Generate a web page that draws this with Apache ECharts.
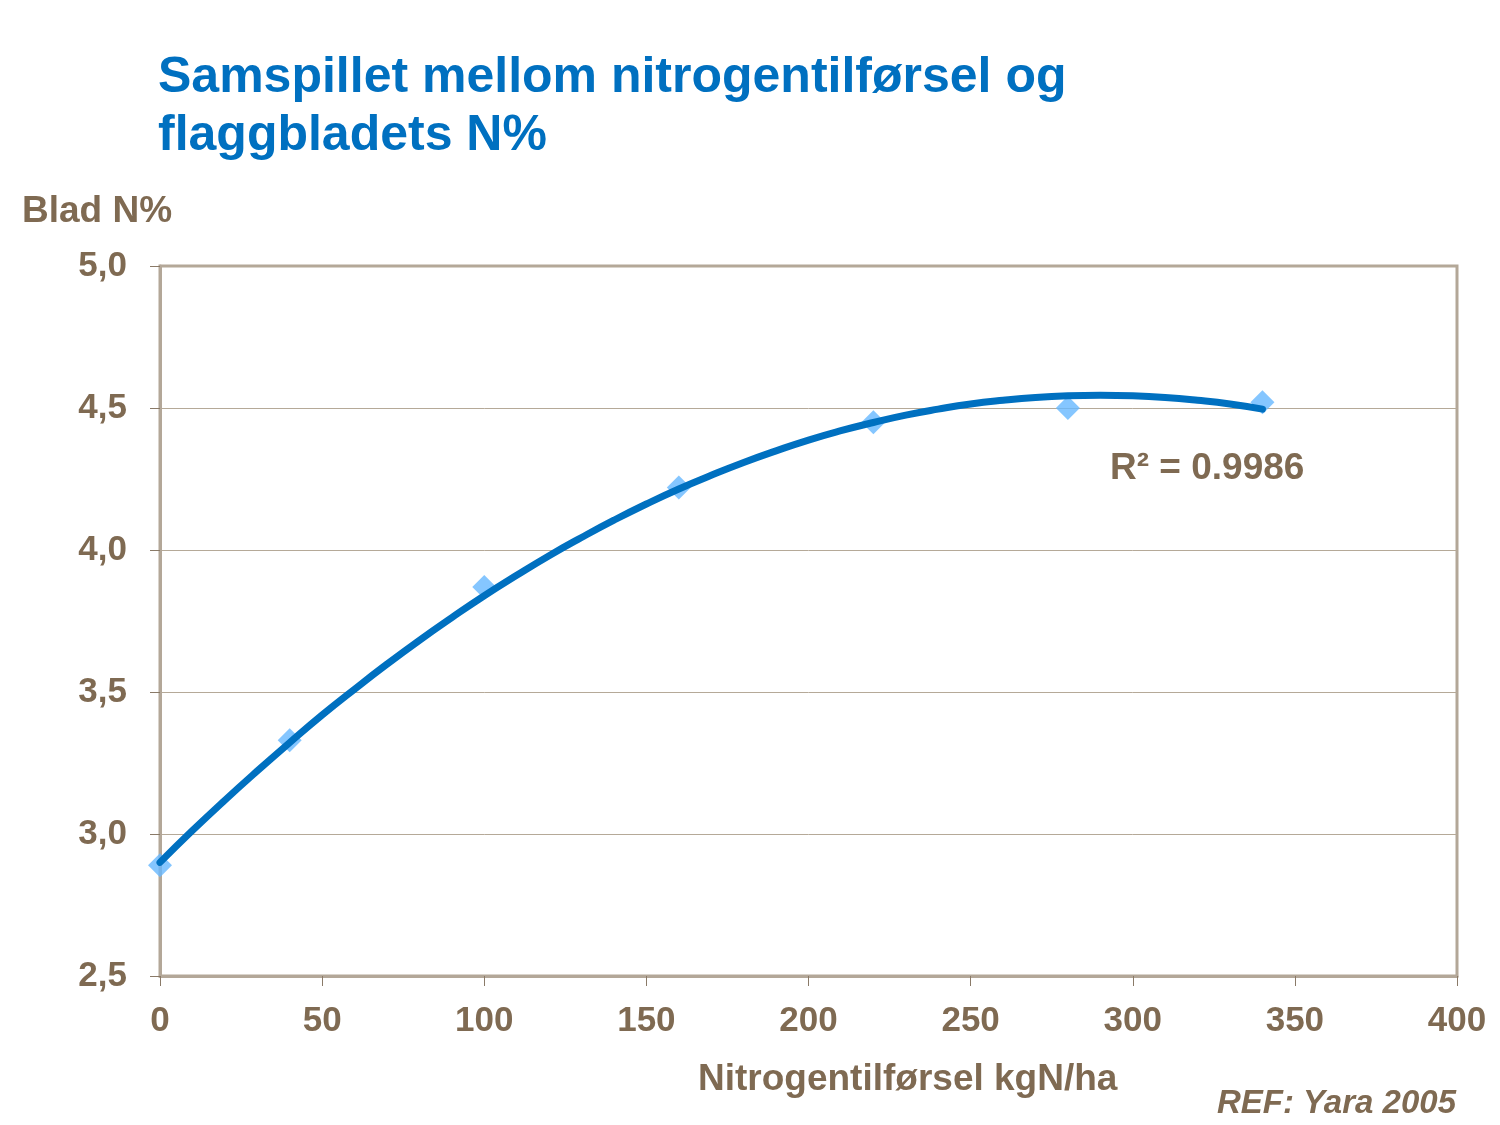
<!DOCTYPE html>
<html>
<head>
<meta charset="utf-8">
<script src="https://cdn.jsdelivr.net/npm/echarts@6/dist/echarts.min.js"></script>
<style>html,body{margin:0;padding:0;background:#fff}#c{width:1500px;height:1125px}</style>
</head>
<body>
<div id="c"></div>
<script>
// Measured points (kg N/ha, leaf N%)
const nRates = [0, 40, 100, 160, 220, 280, 340];
const leafN = [2.89, 3.33, 3.87, 4.22, 4.45, 4.50, 4.52];
// Trendline (2nd-order polynomial)
const trendX = [0, 10, 20, 30, 40, 50, 60, 70, 80, 90, 100, 110, 120, 130, 140, 150, 160, 170, 180, 190, 200, 210, 220, 230, 240, 250, 260, 270, 280, 290, 300, 310, 320, 330, 340];
const trendY = [2.900, 3.012, 3.119, 3.222, 3.322, 3.419, 3.510, 3.598, 3.682, 3.762, 3.839, 3.911, 3.980, 4.044, 4.105, 4.162, 4.215, 4.263, 4.308, 4.349, 4.387, 4.420, 4.449, 4.475, 4.496, 4.514, 4.527, 4.537, 4.543, 4.545, 4.543, 4.537, 4.527, 4.514, 4.496];
const yTicks = [2.5, 3.0, 3.5, 4.0, 4.5, 5.0];
const xTicks = [0, 50, 100, 150, 200, 250, 300, 350, 400];

const txt = '#7f6a52';
const frame = '#b3a798';
const font = '"Liberation Sans", Arial';
const chart = echarts.init(document.getElementById('c'));
chart.setOption({
  backgroundColor: '#fff',
  animation: false,
  title: {
    text: 'Samspillet mellom nitrogentilførsel og\nflaggbladets N%',
    left: 153, top: 44,
    textStyle: {color: '#0070c0', fontFamily: font, fontWeight: 'bold', fontSize: 50, lineHeight: 58}
  },
  grid: {left: 160, right: 43, top: 266, bottom: 149, show: true, borderColor: frame, borderWidth: 3, backgroundColor: '#fff'},
  xAxis: {
    type: 'value', min: 0, max: 400, interval: 50,
    axisLine: {show: true, lineStyle: {color: frame, width: 3}},
    axisTick: {show: true, length: 10, lineStyle: {color: '#8a7a68', width: 1}},
    splitLine: {show: false},
    axisLabel: {color: txt, fontFamily: font, fontWeight: 'bold', fontSize: 35, margin: 28,
      formatter: v => xTicks.includes(v) ? String(v) : ''}
  },
  yAxis: {
    type: 'value', min: 2.5, max: 5.0, interval: 0.5,
    axisLine: {show: true, lineStyle: {color: frame, width: 3}},
    axisTick: {show: true, length: 10, lineStyle: {color: '#8a7a68', width: 1}},
    splitLine: {show: true, lineStyle: {color: '#b5a998', width: 1}},
    axisLabel: {color: txt, fontFamily: font, fontWeight: 'bold', fontSize: 35, margin: 33,
      formatter: v => yTicks.includes(+v.toFixed(1)) ? v.toFixed(1).replace('.', ',') : ''}
  },
  series: [
    {
      type: 'scatter', name: 'Blad N%',
      data: nRates.map((x, i) => [x, leafN[i]]),
      symbol: 'diamond', symbolSize: 24,
      itemStyle: {color: '#66b8ff'}, z: 2
    },
    {
      type: 'line', name: 'Trend',
      data: trendX.map((x, i) => [x, trendY[i]]),
      smooth: true, showSymbol: false, symbol: 'none',
      lineStyle: {color: '#0070c0', width: 7, cap: 'round'}, z: 3
    }
  ],
  graphic: [
    {type: 'text', left: 22, top: 193, style: {text: 'Blad N%', fill: txt, font: 'bold 37px ' + font}},
    {type: 'text', left: 1110, top: 450, style: {text: 'R² = 0.9986', fill: txt, font: 'bold 37px ' + font}},
    {type: 'text', left: 698, top: 1061, style: {text: 'Nitrogentilførsel kgN/ha', fill: txt, font: 'bold 37px ' + font}},
    {type: 'text', right: 44, top: 1087, style: {text: 'REF: Yara 2005', fill: txt, font: 'italic bold 33px ' + font}}
  ]
});
</script>
</body>
</html>
